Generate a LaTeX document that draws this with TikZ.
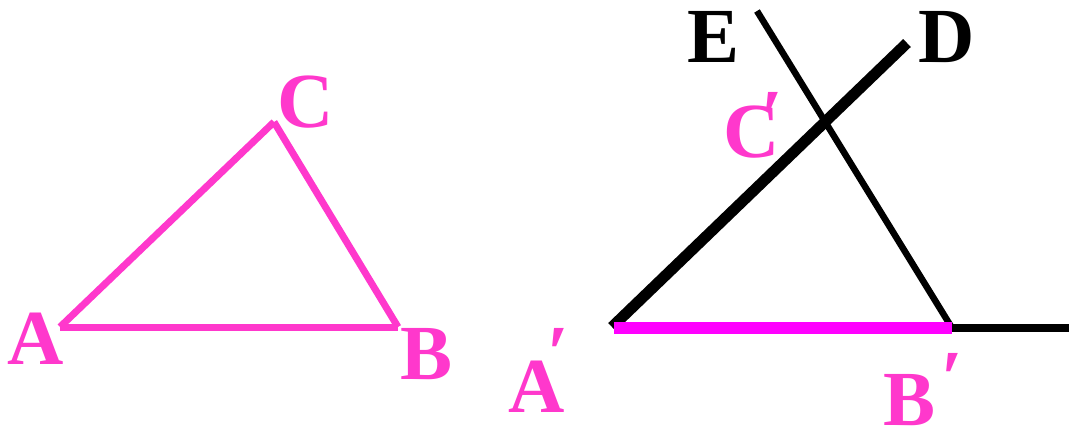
\documentclass[tikz,border=0pt]{standalone}
\usepackage{fontspec}
\setmainfont{Liberation Serif}[BoldFont={Liberation Serif Bold}]
\definecolor{pinkc}{RGB}{255,56,204}
\definecolor{magc}{RGB}{255,0,255}
\tikzset{
  lbl/.style={inner sep=0pt, anchor=base, font=\fontsize{78}{80}\selectfont\bfseries},
  pinklbl/.style={lbl, text=pinkc},
  blacklbl/.style={lbl, text=black},
  tri/.style={draw=pinkc, line width=7pt, line cap=butt},
}
\begin{document}
\begin{tikzpicture}[x=1pt,y=-1pt]
\useasboundingbox (0,0) rectangle (1069,431);
% left triangle
\coordinate (A) at (60,327);
\coordinate (B) at (398,327);
\coordinate (C) at (274,122);
\draw[tri] (A) -- (B);
\draw[tri] (B) -- (C);
\draw[tri] (C) -- (A);
\node[pinklbl] (lA) at (35.5,364) {A};
\node[pinklbl] (lB) at (427,379) {B};
\node[pinklbl] (lC) at (306,127) {C};
% right construction
\coordinate (A2) at (612,327);
\coordinate (B2) at (952,328);
\coordinate (D) at (907,43);
\coordinate (Etop) at (757,11);
\coordinate (R) at (1069,328);
\draw[line width=11pt] (A2) -- (D);
\draw[line width=6.5pt] (Etop) -- (B2);
\draw[line width=8pt] (B2) -- (R);
\draw[draw=magc, line width=12pt] (614,328) -- (B2);
\node[blacklbl] (lE) at (713.5,62) {E};
\node[blacklbl] (lD) at (947,62) {D};
\node[pinklbl] (lA2) at (536.5,412) {A};
\node[pinklbl] (pA2) at (558.5,379) {′};
\node[pinklbl] (lB2) at (910,425) {B};
\node[pinklbl] (pB2) at (952,404) {′};
\node[pinklbl] (lC2) at (751.5,157) {C};
\node[pinklbl] (pC2) at (772.5,143) {′};
\end{tikzpicture}
\end{document}
